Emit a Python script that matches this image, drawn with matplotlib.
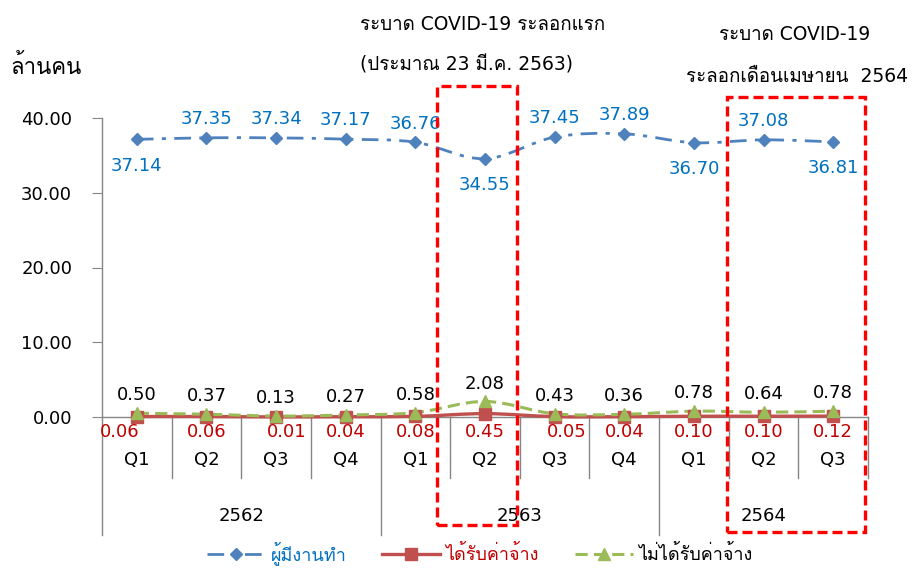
import matplotlib
matplotlib.use('Agg')
import matplotlib.pyplot as plt
from matplotlib import font_manager as fm
from matplotlib.ft2font import FT2Font
from matplotlib.path import Path
from matplotlib.patches import PathPatch, Rectangle
from matplotlib.lines import Line2D

# Data (ล้านคน)
quarters = ['Q1', 'Q2', 'Q3', 'Q4', 'Q1', 'Q2', 'Q3', 'Q4', 'Q1', 'Q2', 'Q3']
years = ['2562', '2563', '2564']
employed = [37.14, 37.35, 37.34, 37.17, 36.76, 34.55, 37.45, 37.89, 36.70, 37.08, 36.81]
paid = [0.06, 0.06, 0.01, 0.04, 0.08, 0.45, 0.05, 0.04, 0.10, 0.10, 0.12]
unpaid = [0.50, 0.37, 0.13, 0.27, 0.58, 2.08, 0.43, 0.36, 0.78, 0.64, 0.78]
series_names = ['ผู้มีงานทำ', 'ได้รับค่าจ้าง', 'ไม่ได้รับค่าจ้าง']

# find a font that has Thai glyphs (used as fallback after DejaVu)
thai_font = None
for f in fm.fontManager.ttflist:
    try:
        if 0x0E01 in FT2Font(f.fname).get_charmap():
            thai_font = f.name
            break
    except Exception:
        pass
fams = ['DejaVu Sans', thai_font] if thai_font else ['DejaVu Sans']
plt.rcParams['font.family'] = fams

BLUE = '#4F81BD'
BLUE_TXT = '#0070C0'
RED = '#C0504D'
RED_TXT = '#C00000'
GREEN = '#9BBB59'


def smooth_path(xs, ys):
    # cubic bezier through the points (like excel's smoothed line)
    verts = [(xs[0], ys[0])]
    codes = [Path.MOVETO]
    n = len(xs)
    for i in range(n - 1):
        x0, y0 = (xs[i - 1], ys[i - 1]) if i > 0 else (xs[i], ys[i])
        x3, y3 = (xs[i + 2], ys[i + 2]) if i + 2 < n else (xs[i + 1], ys[i + 1])
        c1 = (xs[i] + (xs[i + 1] - x0) / 6, ys[i] + (ys[i + 1] - y0) / 6)
        c2 = (xs[i + 1] - (x3 - xs[i]) / 6, ys[i + 1] - (y3 - ys[i]) / 6)
        verts += [c1, c2, (xs[i + 1], ys[i + 1])]
        codes += [Path.CURVE4] * 3
    return Path(verts, codes)


fig = plt.figure(figsize=(9.14, 5.68), dpi=100)
ax = fig.add_axes([102 / 914, 151 / 568, 766 / 914, 299 / 568])
x = list(range(len(quarters)))

dashdot = (0, (6, 3, 1.5, 3))
for ys, col, ls, lw, z in [(employed, BLUE, dashdot, 2.0, 3),
                            (paid, RED, '-', 2.4, 4),
                            (unpaid, GREEN, (0, (4, 2)), 2.2, 5)]:
    ax.add_patch(PathPatch(smooth_path(x, ys), fill=False, edgecolor=col,
                           linestyle=ls, lw=lw, zorder=z, clip_on=False))

ax.plot(x, employed, 'D', color=BLUE, ms=6.5, zorder=6, clip_on=False)
ax.plot(x, paid, 's', color=RED, ms=8, zorder=6, clip_on=False)
ax.plot(x, unpaid, '^', color=GREEN, ms=9, zorder=7, clip_on=False)

# data labels
emp_above = [False, True, True, True, True, False, True, True, False, True, False]
for i, v in enumerate(employed):
    dy = 2.5 if emp_above[i] else -3.5
    ax.text(i, v + dy, f'{v:.2f}', color=BLUE_TXT, fontsize=13,
            ha='center', va='center', zorder=8)
paid_dx = [-0.25, 0, 0.15, 0, 0, 0, 0.18, 0, 0, 0, 0]
for i, v in enumerate(paid):
    ax.text(i + paid_dx[i], -2.0, f'{v:.2f}', color=RED_TXT, fontsize=13,
            ha='center', va='center', zorder=8)
for i, v in enumerate(unpaid):
    ax.text(i, v + 2.4, f'{v:.2f}', color='black', fontsize=13,
            ha='center', va='center', zorder=8)

ax.set_xlim(-0.5, len(quarters) - 0.5)
ax.set_ylim(0, 40)
ax.set_yticks([0, 10, 20, 30, 40])
ax.set_yticklabels([f'{t:.2f}' for t in [0, 10, 20, 30, 40]], fontsize=13)
ax.tick_params(axis='y', length=7, color='#868686', pad=14.5)
ax.set_xticks([])
for s in ['top', 'right']:
    ax.spines[s].set_visible(False)
for s in ['left', 'bottom']:
    ax.spines[s].set_color('#868686')
    ax.spines[s].set_linewidth(1)

# category axis with group separators
trans = ax.get_xaxis_transform()
for k in range(len(quarters) + 1):
    low = -0.395 if (k - 0.5) in (-0.5, 3.5, 7.5) else -0.204
    ax.plot([k - 0.5, k - 0.5], [0, low], color='#868686', lw=1,
            transform=trans, clip_on=False)
for i, q in enumerate(quarters):
    ax.text(i, -0.144, q, transform=trans, ha='center', va='center', fontsize=13)
for xc, yr in zip([1.5, 5.49, 9.0], years):
    ax.text(xc, -0.331, yr, transform=trans, ha='center', va='center', fontsize=13)

# red dashed boxes
for x0, x1, y0, y1 in [(4.31, 5.46, -14.4, 44.3), (8.47, 10.46, -15.4, 42.8)]:
    ax.add_patch(Rectangle((x0, y0), x1 - x0, y1 - y0, fill=False, edgecolor='#FF0000',
                           lw=2.4, linestyle=(0, (3, 1.5)), clip_on=False, zorder=9))

fig.text(10 / 914, 1 - 66 / 568, 'ล้านคน', fontsize=16, va='center', ha='left')
fig.text(360 / 914, 1 - 25 / 568, 'ระบาด COVID-19 ระลอกแรก', fontsize=13.5, va='center', ha='left')
fig.text(360 / 914, 1 - 65 / 568, '(ประมาณ 23 มี.ค. 2563)', fontsize=13.5, va='center', ha='left')
fig.text(795 / 914, 1 - 35 / 568, 'ระบาด COVID-19', fontsize=13.5, va='center', ha='center')
fig.text(797 / 914, 1 - 76 / 568, 'ระลอกเดือนเมษายน  2564', fontsize=13.5, va='center', ha='center')

handles = [Line2D([], [], color=BLUE, ls=dashdot, lw=2, marker='D', ms=6.5),
           Line2D([], [], color=RED, ls='-', lw=2.4, marker='s', ms=8),
           Line2D([], [], color=GREEN, ls=(0, (4, 2)), lw=2.2, marker='^', ms=9)]
fig.legend(handles, series_names, loc='center', bbox_to_anchor=(480 / 914, 1 - 553 / 568),
           ncol=3, frameon=False, fontsize=13, handlelength=3.2, columnspacing=2.0,
           labelcolor=[BLUE_TXT, RED_TXT, 'black'], handletextpad=0.3)

fig.savefig('out.png', dpi=100)
